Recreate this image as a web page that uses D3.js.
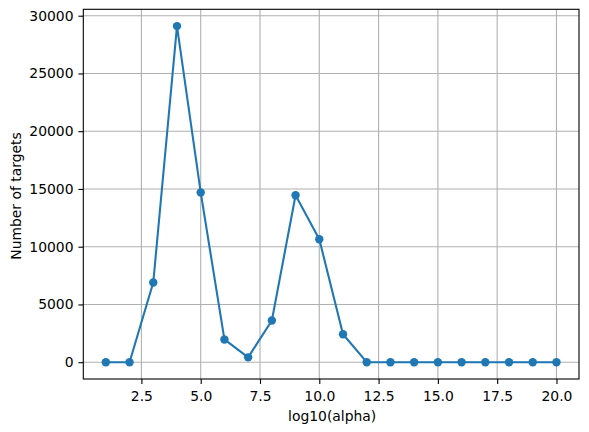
<!DOCTYPE html>
<html><head><meta charset="utf-8">
<script src="https://cdn.jsdelivr.net/npm/d3@7"></script>
<style>body{margin:0;background:#fff}svg{display:block}</style>
</head><body>
<svg id="chart" width="589" height="432"></svg>
<script>
const xValues = [1,2,3,4,5,6,7,8,9,10,11,12,13,14,15,16,17,18,19,20];
const targetCounts = [0,0,6900,29100,14700,1970,420,3610,14450,10650,2420,0,0,0,0,0,0,0,0,0];
const xTicks = [2.5,5.0,7.5,10.0,12.5,15.0,17.5,20.0];
const yTicks = [0,5000,10000,15000,20000,25000,30000];

const svg = d3.select("#chart");
const m = {left:83.3, right:579, top:9.3, bottom:379};
const x = d3.scaleLinear().domain([0.05,20.95]).range([m.left,m.right]);
const y = d3.scaleLinear().domain([-1455,30555]).range([m.bottom,m.top]);
const font = "DejaVu Sans, sans-serif";
const fs = 13.9;

// grid
svg.append("g").selectAll("line").data(xTicks).join("line")
  .attr("x1",d=>x(d)).attr("x2",d=>x(d)).attr("y1",m.top).attr("y2",m.bottom)
  .attr("stroke","#b0b0b0").attr("stroke-width",1.1);
svg.append("g").selectAll("line").data(yTicks).join("line")
  .attr("y1",d=>y(d)).attr("y2",d=>y(d)).attr("x1",m.left).attr("x2",m.right)
  .attr("stroke","#b0b0b0").attr("stroke-width",1.1);

// axes
const xAxis = d3.axisBottom(x).tickValues(xTicks).tickFormat(d3.format(".1f")).tickSize(4.9).tickPadding(4.9);
const yAxis = d3.axisLeft(y).tickValues(yTicks).tickFormat(d=>String(d)).tickSize(4.9).tickPadding(4.9);
const gx = svg.append("g").attr("transform",`translate(0,${m.bottom})`).call(xAxis);
const gy = svg.append("g").attr("transform",`translate(${m.left},0)`).call(yAxis);
[gx,gy].forEach(g=>{
  g.select(".domain").remove();
  g.selectAll(".tick line").attr("stroke","#000").attr("stroke-width",1.1);
  g.selectAll(".tick text").attr("font-family",font).attr("font-size",fs).attr("fill","#000");
});
gx.selectAll(".tick text").attr("dy","0.86em");

// line + markers
const line = d3.line().x((d,i)=>x(xValues[i])).y(d=>y(d));
svg.append("path").datum(targetCounts).attr("d",line)
  .attr("fill","none").attr("stroke","#1f77b4").attr("stroke-width",2.08).attr("stroke-linejoin","round");
svg.append("g").selectAll("circle").data(targetCounts).join("circle")
  .attr("cx",(d,i)=>x(xValues[i])).attr("cy",d=>y(d)).attr("r",4.2).attr("fill","#1f77b4");

// frame
svg.append("rect").attr("x",m.left).attr("y",m.top).attr("width",m.right-m.left).attr("height",m.bottom-m.top)
  .attr("fill","none").attr("stroke","#000").attr("stroke-width",1.1);

// labels
svg.append("text").attr("x",(m.left+m.right)/2 + 1).attr("y",421).attr("text-anchor","middle")
  .attr("font-family",font).attr("font-size",fs).text("log10(alpha)");
svg.append("text").attr("transform",`translate(21,196) rotate(-90)`).attr("text-anchor","middle")
  .attr("font-family",font).attr("font-size",fs).text("Number of targets");
</script>
</body></html>
